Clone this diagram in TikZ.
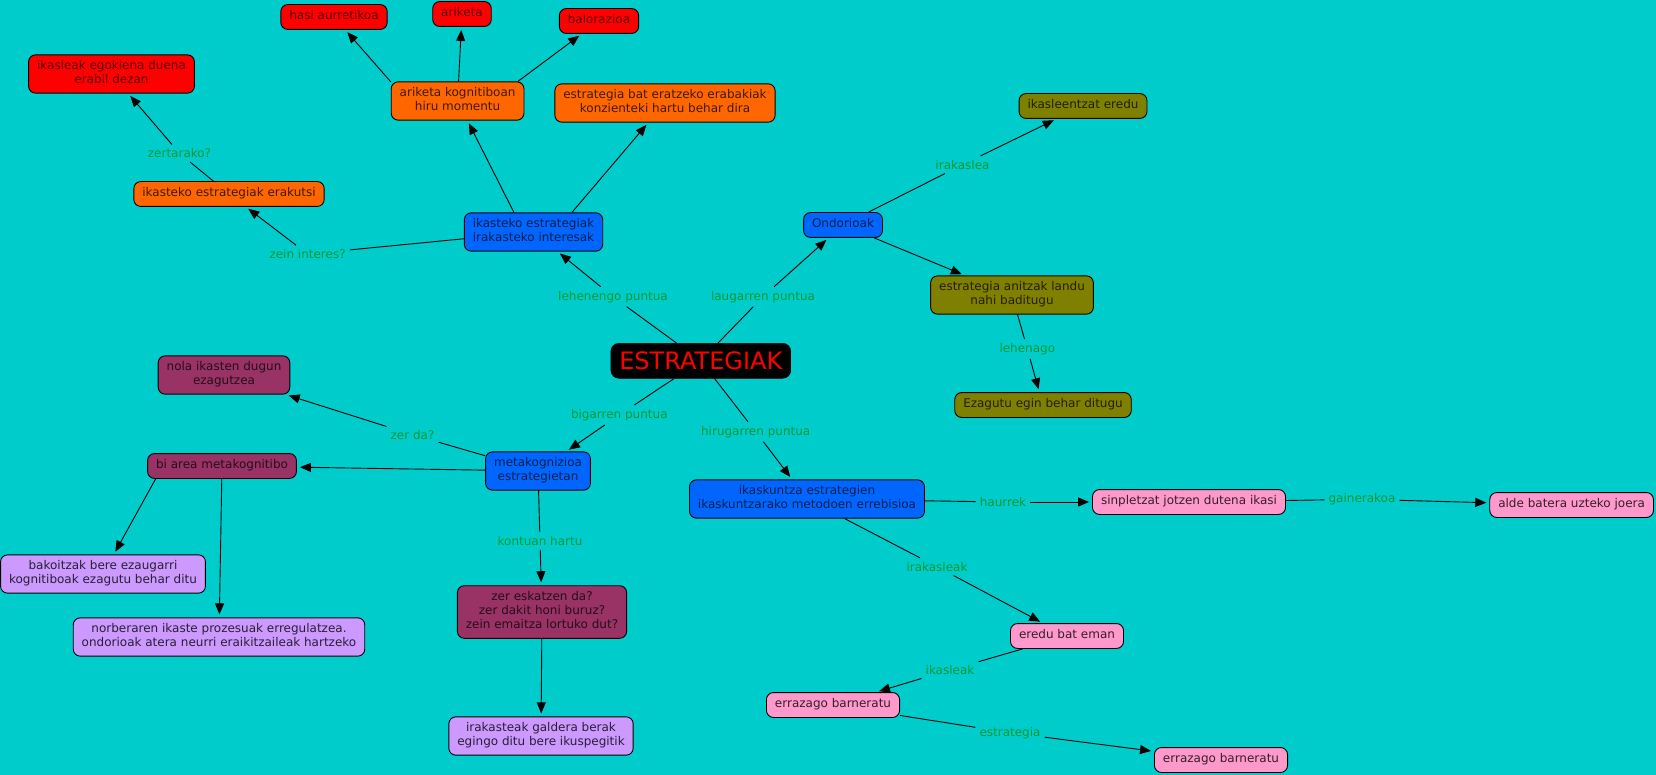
\documentclass[tikz,border=0pt]{standalone}
\usepackage{fontspec}
\setmainfont{DejaVu Sans}
\usepackage{xcolor}
\usetikzlibrary{arrows.meta,calc}

\definecolor{cmbg}{RGB}{0,204,204}
\definecolor{cmred}{RGB}{255,0,0}
\definecolor{cmorange}{RGB}{255,102,0}
\definecolor{cmblue}{RGB}{0,102,255}
\definecolor{cmolive}{RGB}{128,128,0}
\definecolor{cmmaroon}{RGB}{153,51,102}
\definecolor{cmlilac}{RGB}{204,153,255}
\definecolor{cmpink}{RGB}{255,153,204}
\definecolor{cmgreen}{RGB}{0,153,51}

\newcommand{\cmapfont}{\fontsize{12}{14.3}\selectfont}

\begin{document}
\begin{tikzpicture}[x=1pt,y=-1pt,>={Triangle[length=11pt,width=9pt]},
  concept/.style={draw=black,line width=0.9pt,rounded corners=7pt,align=center,
    font=\cmapfont,inner xsep=8.5pt,inner ysep=5.3pt,
    execute at begin node=\strut,execute at end node=\strut},
  rednode/.style={concept,fill=cmred,text=cmred!35!black},
  orangenode/.style={concept,fill=cmorange,text=cmorange!25!black},
  bluenode/.style={concept,fill=cmblue,text=cmblue!30!black},
  olivenode/.style={concept,fill=cmolive,text=cmolive!25!black},
  maroonnode/.style={concept,fill=cmmaroon,text=cmmaroon!25!black},
  lilacnode/.style={concept,fill=cmlilac,text=cmlilac!20!black},
  pinknode/.style={concept,fill=cmpink,text=cmpink!20!black},
  rootnode/.style={draw=black,fill=black,text=cmred,rounded corners=8pt,
    font=\fontsize{24}{28}\selectfont,inner xsep=8.5pt,inner ysep=8.7pt,
    text height=17.6pt,text depth=0pt},
  linkword/.style={font=\cmapfont,text=cmgreen,inner sep=4pt},
  link/.style={line width=0.9pt},
  arrowlink/.style={link,->,shorten >=3pt}]

  \useasboundingbox (0,0) rectangle (1656,775);
  \fill[cmbg] (0,0) rectangle (1656,775);

  % concepts
  \node[rootnode] (root) at (700.8,360.8) {ESTRATEGIAK};

  \node[bluenode] (ikint) at (533.5,232) {ikasteko estrategiak\\irakasteko interesak};
  \node[bluenode] (ondorio) at (843,225) {Ondorioak};
  \node[bluenode] (metak) at (538,471) {metakognizioa\\estrategietan};
  \node[bluenode] (ikask) at (807,499) {ikaskuntza estrategien\\ikaskuntzarako metodoen errebisioa};

  \node[orangenode] (ariketak) at (457.6,101) {ariketa kognitiboan\\hiru momentu};
  \node[orangenode] (eratzeko) at (665,103) {estrategia bat eratzeko erabakiak\\konzienteki hartu behar dira};
  \node[orangenode] (erakutsi) at (229,194) {ikasteko estrategiak erakutsi};

  \node[rednode] (egokiena) at (111.5,74) {ikasleak egokiena duena\\erabil dezan};
  \node[rednode] (hasi) at (334,17) {hasi aurretikoa};
  \node[rednode] (ariketa) at (462,14) {ariketa};
  \node[rednode] (balorazio) at (599,21) {balorazioa};

  \node[olivenode] (eredu) at (1083,106) {ikasleentzat eredu};
  \node[olivenode] (anitz) at (1012,295) {estrategia anitzak landu\\nahi baditugu};
  \node[olivenode] (ezagutu) at (1043,405) {Ezagutu egin behar ditugu};

  \node[maroonnode] (nola) at (224,375) {nola ikasten dugun\\ezagutzea};
  \node[maroonnode] (biarea) at (222,466) {bi area metakognitibo};
  \node[maroonnode] (galderak) at (542,612) {zer eskatzen da?\\zer dakit honi buruz?\\zein emaitza lortuko dut?};

  \node[lilacnode] (bakoitz) at (103,574) {bakoitzak bere ezaugarri\\kognitiboak ezagutu behar ditu};
  \node[lilacnode] (norber) at (219,637) {norberaren ikaste prozesuak erregulatzea.\\ondorioak atera neurri eraikitzaileak hartzeko};
  \node[lilacnode] (irakast) at (541,736) {irakasteak galdera berak\\egingo ditu bere ikuspegitik};

  \node[pinknode] (sinple) at (1189,502) {sinpletzat jotzen dutena ikasi};
  \node[pinknode] (alde) at (1571.6,505) {alde batera uzteko joera};
  \node[pinknode] (ereduemn) at (1067,636) {eredu bat eman};
  \node[pinknode] (errazA) at (833,705) {errazago barneratu};
  \node[pinknode] (errazB) at (1221,760) {errazago barneratu};

  % linking words
  \node[linkword] (lehen) at (613,296.7) {lehenengo puntua};
  \node[linkword] (laugarren) at (763,296.7) {laugarren puntua};
  \node[linkword] (bigarren) at (619.3,415) {bigarren puntua};
  \node[linkword] (hirugarren) at (755.7,431.7) {hirugarren puntua};
  \node[linkword] (zein) at (307.6,254) {zein interes?};
  \node[linkword] (zertarako) at (179.5,153.3) {zertarako?};
  \node[linkword] (irakaslea) at (962.5,164.7) {irakaslea};
  \node[linkword] (lehenago) at (1027.3,349) {lehenago};
  \node[linkword] (zerda) at (412.5,434.7) {zer da?};
  \node[linkword] (kontuan) at (540,540.7) {kontuan hartu};
  \node[linkword] (haurrek) at (1003,502) {haurrek};
  \node[linkword] (gainera) at (1362,499.3) {gainerakoa};
  \node[linkword] (irakasleak) at (937,566.7) {irakasleak};
  \node[linkword] (ikasleak) at (950,670) {ikasleak};
  \node[linkword] (estrat) at (1010,732.7) {estrategia};

  % connectors
  \draw[link] (root) -- (lehen);
  \draw[arrowlink] (lehen) -- (ikint);
  \draw[link] (root) -- (laugarren);
  \draw[arrowlink] (laugarren) -- (ondorio);
  \draw[link] (root) -- (bigarren);
  \draw[arrowlink] (bigarren) -- (metak);
  \draw[link] (root) -- (hirugarren);
  \draw[arrowlink] (hirugarren) -- (ikask);

  \draw[arrowlink] (ikint.135) -- (ariketak);
  \draw[arrowlink] (ikint.27) -- (eratzeko);
  \draw[link] (ikint) -- (zein);
  \draw[arrowlink] (zein) -- (erakutsi);
  \draw[link] (erakutsi) -- (zertarako);
  \draw[arrowlink] (zertarako) -- (egokiena);
  \draw[arrowlink] (ariketak.164) -- (hasi);
  \draw[arrowlink] (ariketak) -- (ariketa);
  \draw[arrowlink] (ariketak.18) -- (balorazio);

  \draw[link] (ondorio) -- (irakaslea);
  \draw[arrowlink] (irakaslea) -- (eredu);
  \draw[arrowlink] (ondorio) -- (anitz);
  \draw[link] (anitz) -- (lehenago);
  \draw[arrowlink] (lehenago) -- (ezagutu);

  \draw[link] (metak) -- (zerda);
  \draw[arrowlink] (zerda) -- (nola);
  \draw[arrowlink] (metak) -- (biarea);
  \draw[link] (metak) -- (kontuan);
  \draw[arrowlink] (kontuan) -- (galderak);
  \draw[arrowlink] (galderak) -- (irakast);
  \draw[arrowlink] (biarea.191) -- (bakoitz);
  \draw[arrowlink] (biarea) -- (norber);

  \draw[link] (ikask) -- (haurrek);
  \draw[arrowlink] (haurrek) -- (sinple);
  \draw[link] (sinple) -- (gainera);
  \draw[arrowlink] (gainera) -- (alde);
  \draw[link] (ikask) -- (irakasleak);
  \draw[arrowlink] (irakasleak) -- (ereduemn);
  \draw[link] (ereduemn) -- (ikasleak);
  \draw[arrowlink] (ikasleak) -- (errazA);
  \draw[link] (errazA) -- (estrat);
  \draw[arrowlink] (estrat) -- (errazB);
\end{tikzpicture}
\end{document}
